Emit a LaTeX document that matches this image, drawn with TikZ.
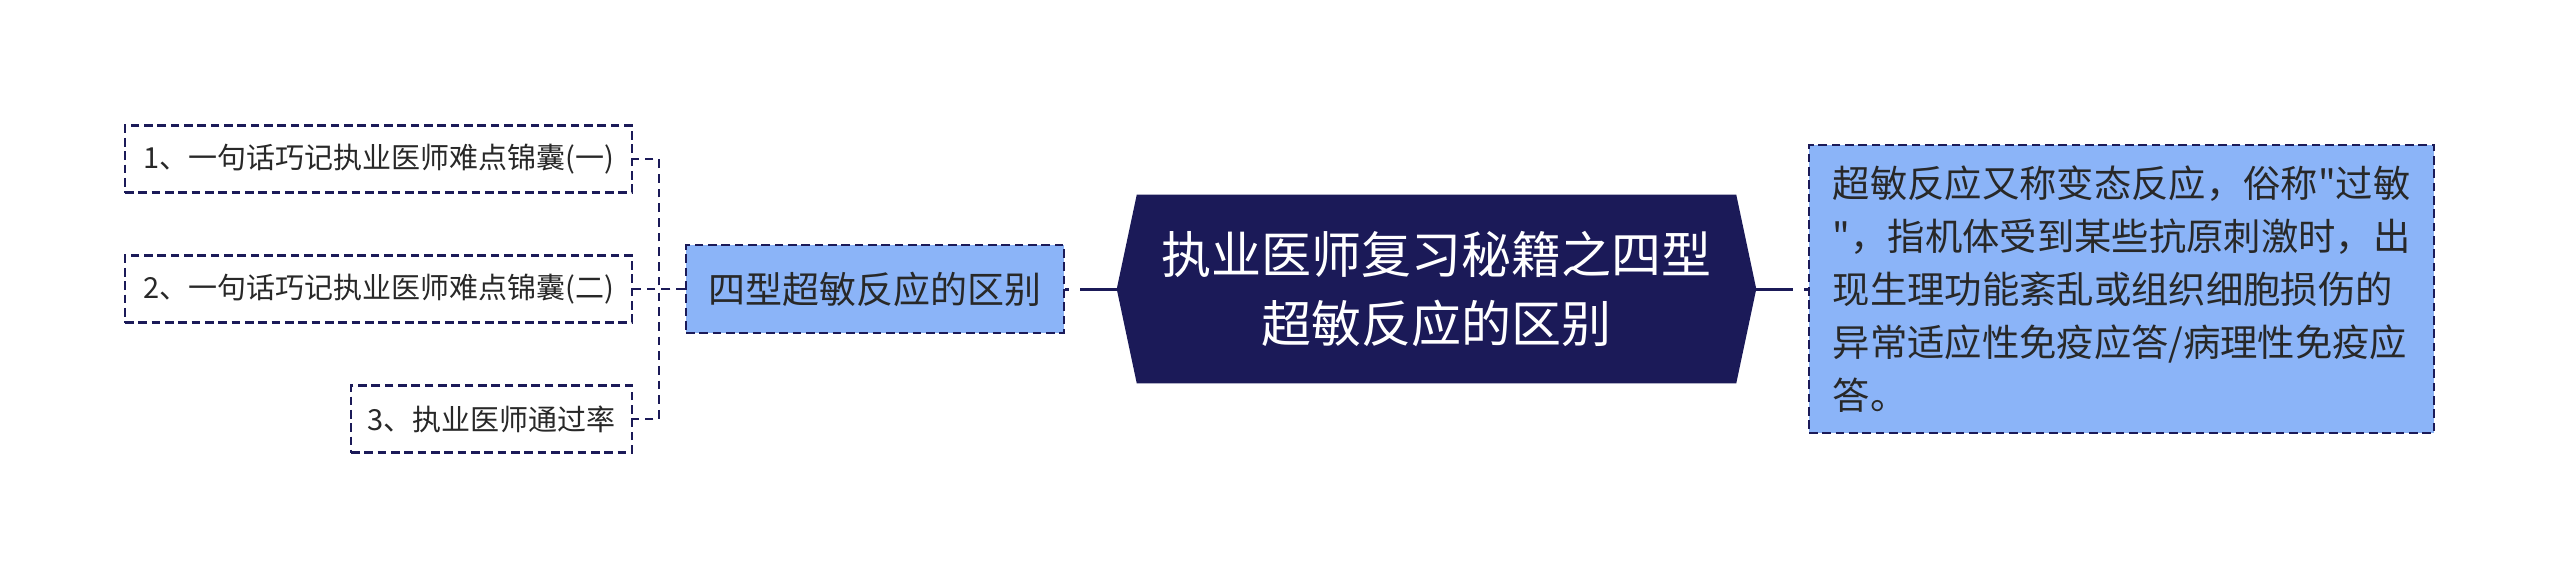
\documentclass[tikz,border=0pt]{standalone}
\usepackage{fontspec}
\newfontfamily\cjk{Noto Sans CJK SC}
\usetikzlibrary{calc,backgrounds}
\definecolor{navy}{RGB}{27,26,88}
\definecolor{lblue}{RGB}{139,180,248}
\definecolor{txt}{RGB}{40,40,40}
\tikzset{
  boxdash/.style={draw=navy, line width=1.8pt, dash pattern=on 6.5pt off 3.5pt},
  leaf/.style={boxdash, fill=white, text=txt, inner sep=0pt, minimum height=67*0.75pt,
    font=\cjk\fontsize{21.75}{26}\selectfont},
  subtopic/.style={boxdash, fill=lblue, text=txt, inner sep=0pt, minimum width=378*0.75pt,
    minimum height=88*0.75pt, font=\cjk\fontsize{27.75}{34}\selectfont},
  detail/.style={boxdash, fill=lblue, text=txt, inner sep=0pt, align=left, minimum width=625*0.75pt,
    minimum height=288*0.75pt, font=\cjk\fontsize{28}{39.75}\selectfont},
  central/.style={text=white, inner sep=0pt, align=center, minimum width=639*0.75pt,
    minimum height=188*0.75pt, font=\cjk\fontsize{37.5}{51.75}\selectfont},
  mainconn/.style={draw=navy, line width=2.25pt, dash pattern=on 27.75pt off 8.25pt},
  leafconn/.style={draw=navy, line width=1.8pt, dash pattern=on 6.5pt off 4.5pt}
}
\begin{document}
\begin{tikzpicture}[x=0.75pt,y=-0.75pt]
\useasboundingbox (0,0) rectangle (2560,579);
% central topic
\node[central] (c) at (1436.5,289) {执业医师复习秘籍之四型\\超敏反应的区别};
\begin{scope}[on background layer]
\fill[white] (0,0) rectangle (2560,579);
\fill[navy] ($(c.north west)+(20,0)$) -- ($(c.north east)+(-20,0)$) -- (c.east)
  -- ($(c.south east)+(-20,0)$) -- ($(c.south west)+(20,0)$) -- (c.west) -- cycle;
\end{scope}
% subtopic
\node[subtopic] (s) at (875,289) {四型超敏反应的区别};
% detail box
\node[detail] (d) at (2121.5,289) {超敏反应又称变态反应，俗称"过敏\\"，指机体受到某些抗原刺激时，出\\现生理功能紊乱或组织细胞损伤的\\异常适应性免疫应答/病理性免疫应\\答。};
% leaves
\node[leaf, minimum width=507*0.75pt] (l1) at (378.5,159) {1、一句话巧记执业医师难点锦囊(一)};
\node[leaf, minimum width=507*0.75pt] (l2) at (378.5,289) {2、一句话巧记执业医师难点锦囊(二)};
\node[leaf, minimum width=281*0.75pt] (l3) at (491.5,419) {3、执业医师通过率};
% connectors
\coordinate (j) at (659,289);
\draw[mainconn] (c.west) -- (s.east);
\draw[mainconn] (c.east) -- (d.west);
\draw[leafconn] (s.west) -- (j) |- (l1.east);
\draw[leafconn] (s.west) -- (j) -- (l2.east);
\draw[leafconn] (s.west) -- (j) |- (l3.east);
\end{tikzpicture}
\end{document}
